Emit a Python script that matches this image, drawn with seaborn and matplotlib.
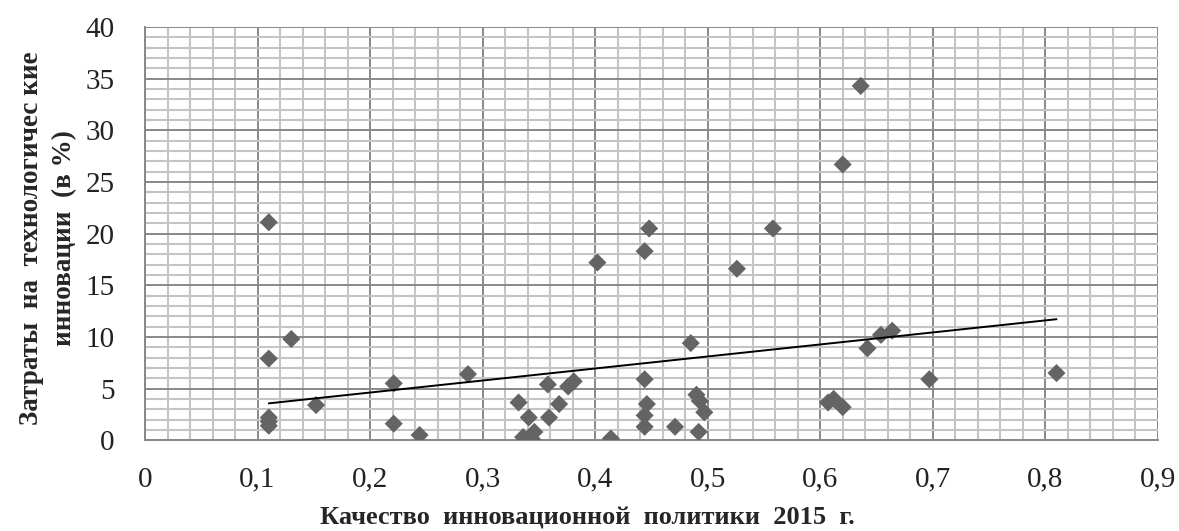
import numpy as np
import pandas as pd
import matplotlib
matplotlib.use("Agg")
import matplotlib.pyplot as plt
import seaborn as sns
from matplotlib.ticker import MultipleLocator, FuncFormatter

# quality of innovation policy 2015 (x) vs spending on tech innovation, % (y)
policy = [0.110, 0.110, 0.130, 0.110, 0.110, 0.110, 0.152, 0.221, 0.221, 0.244, 0.287,
          0.332, 0.341, 0.336, 0.346, 0.344, 0.358, 0.359, 0.368, 0.376, 0.381, 0.414,
          0.444, 0.446, 0.444, 0.444, 0.471, 0.485, 0.490, 0.493, 0.497, 0.492,
          0.607, 0.612, 0.620, 0.642, 0.654, 0.664, 0.697, 0.810,
          0.402, 0.448, 0.444, 0.526, 0.558, 0.620, 0.636]
spending = [21.1, 7.9, 9.8, 2.2, 1.8, 1.4, 3.4, 5.5, 1.6, 0.5, 6.4,
            3.65, 2.2, 0.3, 0.8, 0.1, 5.4, 2.2, 3.5, 5.2, 5.7, 0.16,
            5.9, 3.5, 2.4, 1.3, 1.3, 9.4, 4.4, 3.8, 2.7, 0.8,
            3.65, 4.0, 3.2, 8.9, 10.2, 10.6, 5.9, 6.5,
            17.2, 20.5, 18.3, 16.6, 20.5, 26.7, 34.3]

df = pd.DataFrame({"policy": policy, "spending": spending})

sns.set_style("white")
plt.rcParams["font.family"] = ["Liberation Serif", "DejaVu Serif"]

fig = plt.figure(figsize=(11.79, 5.31), dpi=100)
ax = fig.add_axes([0.123, 0.171, 0.859, 0.778])

sns.scatterplot(data=df, x="policy", y="spending", marker="D", s=85,
                color="#646464", edgecolor="none", ax=ax, zorder=3)
sns.regplot(data=df, x="policy", y="spending", scatter=False, ci=None,
            color="black", line_kws={"lw": 1.4, "zorder": 4}, ax=ax)

ax.set_xlim(0, 0.9)
ax.set_ylim(0, 40)
ax.xaxis.set_major_locator(MultipleLocator(0.1))
ax.xaxis.set_minor_locator(MultipleLocator(0.02))
ax.yaxis.set_major_locator(MultipleLocator(5))
ax.yaxis.set_minor_locator(MultipleLocator(1))

def comma(v, pos):
    s = ("%.1f" % v).rstrip("0").rstrip(".")
    return s.replace(".", ",")

ax.xaxis.set_major_formatter(FuncFormatter(comma))
ax.yaxis.set_major_formatter(FuncFormatter(lambda v, p: "%d" % v))

ax.set_axisbelow(True)
ax.grid(which="minor", color="#c4c4c4", lw=1.5)
ax.grid(which="major", color="#888888", lw=1.4)

for side in ["top", "right"]:
    ax.spines[side].set_visible(False)
for side in ["left", "bottom"]:
    ax.spines[side].set_color("#888888")
    ax.spines[side].set_linewidth(1.4)

ax.tick_params(axis="both", which="major", direction="out", length=7, width=1.4,
               color="#888888", labelsize=21, labelcolor="#222222")
ax.tick_params(axis="x", pad=12)
ax.tick_params(axis="y", pad=15)
ax.tick_params(which="minor", length=0)

ax.set_xlabel("Качество  инновационной  политики  2015  г.", fontsize=19,
              fontweight="bold")
ax.xaxis.set_label_coords(0.437, -0.16)
ax.set_ylabel("Затраты  на  технологичес кие\nинновации  (в %)", fontsize=19.5,
              fontweight="bold", linespacing=1.45)
ax.yaxis.set_label_coords(-0.067, 0.49)

plt.savefig("out.png", dpi=100)
